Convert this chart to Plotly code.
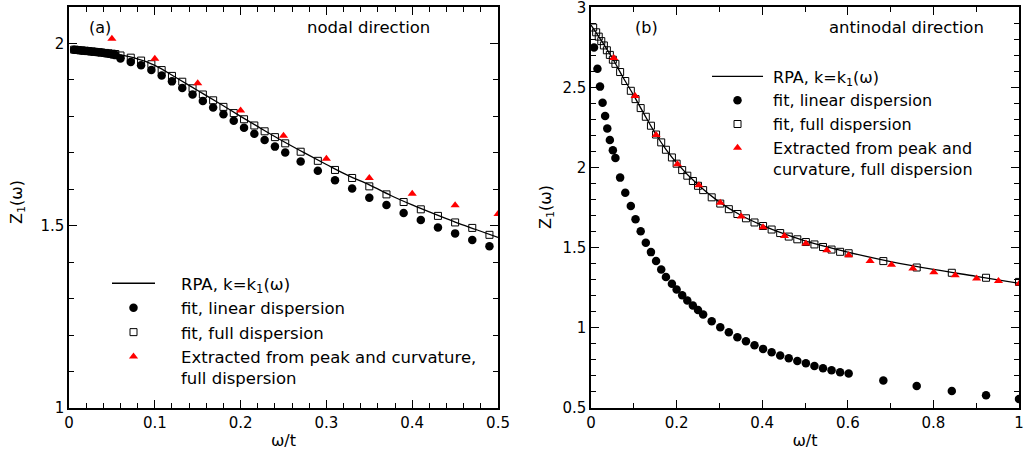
import plotly.graph_objects as go

# ---------------- Panel (a): nodal direction ----------------
a_rpa_x = [0.008, 0.025, 0.05, 0.075, 0.1, 0.125, 0.15, 0.175, 0.2, 0.225, 0.25,
           0.275, 0.3, 0.325, 0.35, 0.375, 0.4, 0.425, 0.45, 0.475, 0.5]
a_rpa_y = [1.981, 1.978, 1.972, 1.961, 1.940, 1.906, 1.871, 1.836, 1.800, 1.765, 1.731,
           1.699, 1.668, 1.638, 1.612, 1.583, 1.557, 1.533, 1.510, 1.489, 1.468]

a_lin_x = [0.006, 0.010, 0.014, 0.018, 0.022, 0.026, 0.030, 0.034, 0.038, 0.042,
           0.046, 0.050, 0.054, 0.060, 0.072, 0.084, 0.096, 0.108, 0.120, 0.132,
           0.144, 0.156, 0.168, 0.180, 0.192, 0.204, 0.216, 0.228, 0.240, 0.252,
           0.270, 0.290, 0.310, 0.330, 0.350, 0.370, 0.390, 0.410, 0.430, 0.450,
           0.470, 0.490]
a_lin_y = [1.983, 1.982, 1.981, 1.980, 1.979, 1.978, 1.977, 1.976, 1.975, 1.973,
           1.972, 1.970, 1.968, 1.959, 1.949, 1.940, 1.927, 1.912, 1.896, 1.878,
           1.860, 1.842, 1.824, 1.806, 1.788, 1.769, 1.752, 1.735, 1.717, 1.701,
           1.676, 1.651, 1.625, 1.602, 1.577, 1.557, 1.535, 1.516, 1.495, 1.479,
           1.461, 1.444]

a_full_x = [0.006, 0.010, 0.014, 0.018, 0.022, 0.026, 0.030, 0.034, 0.038, 0.042,
            0.046, 0.050, 0.054, 0.060, 0.072, 0.084, 0.096, 0.108, 0.120, 0.132,
            0.144, 0.156, 0.168, 0.180, 0.192, 0.204, 0.216, 0.228, 0.240, 0.252,
            0.270, 0.290, 0.310, 0.330, 0.350, 0.370, 0.390, 0.410, 0.430, 0.450,
            0.470, 0.490]
a_full_y = [1.983, 1.982, 1.981, 1.980, 1.979, 1.978, 1.977, 1.976, 1.975, 1.974,
            1.973, 1.972, 1.971, 1.967, 1.961, 1.953, 1.943, 1.927, 1.911, 1.895,
            1.877, 1.860, 1.844, 1.826, 1.809, 1.792, 1.775, 1.759, 1.743, 1.726,
            1.703, 1.678, 1.653, 1.631, 1.608, 1.586, 1.565, 1.545, 1.527, 1.509,
            1.494, 1.475]

a_ext_x = [0.05, 0.10, 0.15, 0.20, 0.25, 0.30, 0.35, 0.40, 0.45, 0.50]
a_ext_y = [2.013, 1.958, 1.891, 1.816, 1.747, 1.684, 1.631, 1.588, 1.556, 1.532]

# ---------------- Panel (b): antinodal direction ----------------
b_rpa_x = [0.0, 0.025, 0.05, 0.075, 0.1, 0.125, 0.15, 0.175, 0.2, 0.25, 0.3, 0.35,
           0.4, 0.45, 0.5, 0.6, 0.7, 0.8, 0.9, 1.0]
b_rpa_y = [2.890, 2.790, 2.683, 2.563, 2.450, 2.330, 2.215, 2.115, 2.030, 1.893,
           1.785, 1.703, 1.640, 1.588, 1.543, 1.473, 1.414, 1.365, 1.322, 1.278]

b_lin_x = [0.007, 0.015, 0.021, 0.027, 0.033, 0.038, 0.044, 0.051, 0.057, 0.068,
           0.080, 0.093, 0.104, 0.116, 0.128, 0.140, 0.152, 0.164, 0.175, 0.189,
           0.200, 0.213, 0.225, 0.238, 0.250, 0.262, 0.282, 0.302, 0.322, 0.342,
           0.362, 0.382, 0.402, 0.422, 0.442, 0.462, 0.482, 0.502, 0.522, 0.542,
           0.562, 0.582, 0.602, 0.683, 0.761, 0.843, 0.923, 1.000]
b_lin_y = [2.750, 2.617, 2.506, 2.406, 2.323, 2.244, 2.173, 2.109, 2.061, 1.938,
           1.844, 1.761, 1.678, 1.603, 1.531, 1.473, 1.417, 1.365, 1.317, 1.275,
           1.240, 1.204, 1.171, 1.140, 1.111, 1.084, 1.042, 1.004, 0.973, 0.942,
           0.917, 0.892, 0.869, 0.848, 0.827, 0.811, 0.794, 0.779, 0.762, 0.748,
           0.736, 0.723, 0.715, 0.671, 0.637, 0.606, 0.579, 0.556]

b_full_x = [0.005, 0.012, 0.018, 0.024, 0.030, 0.037, 0.044, 0.051, 0.057, 0.068,
            0.080, 0.093, 0.104, 0.116, 0.128, 0.140, 0.152, 0.164, 0.175, 0.189,
            0.200, 0.213, 0.225, 0.238, 0.250, 0.262, 0.282, 0.302, 0.322, 0.342,
            0.362, 0.382, 0.402, 0.422, 0.442, 0.462, 0.482, 0.502, 0.522, 0.542,
            0.562, 0.582, 0.602, 0.683, 0.761, 0.843, 0.923, 1.000]
b_full_y = [2.875, 2.845, 2.818, 2.790, 2.763, 2.733, 2.704, 2.674, 2.648, 2.597,
            2.541, 2.480, 2.428, 2.372, 2.318, 2.262, 2.207, 2.158, 2.112, 2.064,
            2.025, 1.985, 1.950, 1.917, 1.887, 1.860, 1.815, 1.776, 1.741, 1.711,
            1.684, 1.658, 1.636, 1.614, 1.592, 1.570, 1.553, 1.536, 1.521, 1.505,
            1.489, 1.475, 1.466, 1.417, 1.377, 1.344, 1.313, 1.287]

b_ext_x = [0.053, 0.103, 0.152, 0.202, 0.252, 0.302, 0.351, 0.402, 0.452, 0.502,
           0.551, 0.602, 0.652, 0.702, 0.752, 0.801, 0.851, 0.901, 0.952, 1.001]
b_ext_y = [2.684, 2.448, 2.204, 2.021, 1.890, 1.781, 1.696, 1.629, 1.573, 1.527,
           1.484, 1.454, 1.417, 1.394, 1.371, 1.348, 1.329, 1.309, 1.292, 1.277]

NB = "\u00a0"
labels_a = [NB * 4 + "RPA, k=k<sub>1</sub>(ω)", NB * 4 + "fit, linear dispersion",
            NB * 4 + "fit, full dispersion",
            NB * 4 + "Extracted from peak and curvature,<br>" + NB * 4 + "full dispersion"]
labels_b = [NB + "RPA, k=k<sub>1</sub>(ω)", NB + "fit, linear dispersion", NB + "fit, full dispersion",
            NB + "Extracted from peak and<br>" + NB + "curvature, full dispersion"]

FONT = "DejaVu Sans"
RED = "#ff0000"

fig = go.Figure()


def add_panel(xa, ya, leg, labels, rx, ry, lx, ly, fx, fy, ex, ey, grp):
    fig.add_trace(go.Scatter(x=rx, y=ry, mode="lines", line=dict(color="black", width=1.3, shape="spline"),
                             name=labels[0], xaxis=xa, yaxis=ya, legend=leg, legendgroup=grp + "1"))
    fig.add_trace(go.Scatter(x=lx, y=ly, mode="markers", marker=dict(symbol="circle", size=8.5, color="black"),
                             name=labels[1], xaxis=xa, yaxis=ya, legend=leg, legendgroup=grp + "2"))
    fig.add_trace(go.Scatter(x=fx, y=fy, mode="markers",
                             marker=dict(symbol="square-open", size=7, color="black", line=dict(width=1)),
                             name=labels[2], xaxis=xa, yaxis=ya, legend=leg, legendgroup=grp + "3"))
    fig.add_trace(go.Scatter(x=ex, y=ey, mode="markers", marker=dict(symbol="triangle-up", size=8, color=RED),
                             name=labels[3], xaxis=xa, yaxis=ya, legend=leg, legendgroup=grp + "4"))


add_panel("x", "y", "legend", labels_a, a_rpa_x, a_rpa_y, a_lin_x, a_lin_y, a_full_x, a_full_y,
          a_ext_x, a_ext_y, "a")
add_panel("x2", "y2", "legend2", labels_b, b_rpa_x, b_rpa_y, b_lin_x, b_lin_y, b_full_x, b_full_y,
          b_ext_x, b_ext_y, "b")

axis_common = dict(showline=True, linecolor="black", linewidth=1.5, mirror="ticks", ticks="inside",
                   ticklen=8, tickwidth=1.2, tickcolor="black", showgrid=False, zeroline=False,
                   ticklabeloverflow="allow", automargin=False,
                   tickfont=dict(family=FONT, size=15, color="black"))
minor_common = dict(ticklen=5, tickwidth=1, tickcolor="black", ticks="inside")

TOP = 7
PH = 456 - TOP - 48  # plot height in px

fig.update_layout(
    width=1034, height=456,
    margin=dict(l=69, r=15, t=TOP, b=48, autoexpand=False),
    paper_bgcolor="white", plot_bgcolor="white",
    font=dict(family=FONT, size=16, color="black"),
    xaxis=dict(domain=[0, 0.4516], range=[0, 0.5], dtick=0.1, tick0=0,
               minor=dict(dtick=0.02, **minor_common),
               title=dict(text="ω/t", standoff=4, font=dict(family=FONT, size=16)), anchor="y", **axis_common),
    yaxis=dict(domain=[0, 1], range=[1, 2.1], dtick=0.5, tick0=1,
               minor=dict(dtick=0.1, **minor_common), anchor="x", **axis_common),
    xaxis2=dict(domain=[0.5495, 1.0], range=[0, 1], dtick=0.2, tick0=0,
                minor=dict(dtick=0.1, **minor_common),
                title=dict(text="ω/t", standoff=4, font=dict(family=FONT, size=16)), anchor="y2", **axis_common),
    yaxis2=dict(domain=[0, 1], range=[0.5, 3.003], dtick=0.5, tick0=0.5,
                minor=dict(dtick=0.1, **minor_common), anchor="x2", **axis_common),
    legend=dict(x=0.04, y=(408 - 266) / PH, xanchor="left", yanchor="top", bgcolor="rgba(0,0,0,0)",
                font=dict(family=FONT, size=16.5), valign="top", tracegroupgap=0, itemwidth=43),
    legend2=dict(x=0.6716, y=(408 - 59.5) / PH, xanchor="left", yanchor="top", bgcolor="rgba(0,0,0,0)",
                 font=dict(family=FONT, size=16), valign="top", tracegroupgap=0, itemwidth=51),
    showlegend=True,
)

fig.add_annotation(text="(a)", xref="x", yref="paper", x=0.036, y=(408 - 28) / PH, showarrow=False,
                   xanchor="center", yanchor="middle", font=dict(family=FONT, size=16))
fig.add_annotation(text="nodal direction", xref="x", yref="paper", x=0.349, y=(408 - 27) / PH, showarrow=False,
                   xanchor="center", yanchor="middle", font=dict(family=FONT, size=16.5))
fig.add_annotation(text="(b)", xref="x2", yref="paper", x=0.1285, y=(408 - 28) / PH, showarrow=False,
                   xanchor="center", yanchor="middle", font=dict(family=FONT, size=16))
fig.add_annotation(text="antinodal direction", xref="x2", yref="paper", x=0.737, y=(408 - 27) / PH,
                   showarrow=False, xanchor="center", yanchor="middle", font=dict(family=FONT, size=16.5))
# y-axis titles
fig.add_annotation(text="Z<sub>1</sub>(ω)", xref="paper", yref="paper", x=(17 - 69) / 950, y=(408 - 202) / PH,
                   showarrow=False, textangle=-90, xanchor="center", yanchor="middle",
                   font=dict(family=FONT, size=16))
fig.add_annotation(text="Z<sub>1</sub>(ω)", xref="paper", yref="paper", x=(546 - 69) / 950, y=(408 - 207) / PH,
                   showarrow=False, textangle=-90, xanchor="center", yanchor="middle",
                   font=dict(family=FONT, size=16))

fig.write_html("out.html", post_script="document.body.style.margin='0';",
               config={"displayModeBar": False})
